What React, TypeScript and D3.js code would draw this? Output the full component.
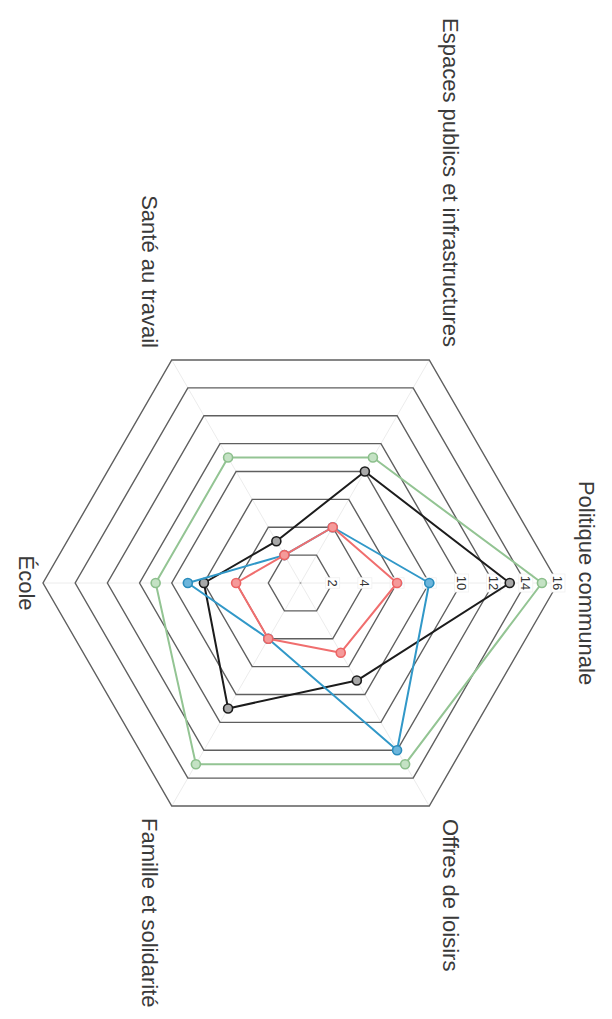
import React from "react";
import * as d3 from "d3";

const axes = [
  "Politique communale",
  "Offres de loisirs",
  "Famille et solidarité",
  "École",
  "Santé au travail",
  "Espaces publics et infrastructures",
];
const ringValues = [2, 4, 6, 8, 10, 12, 14, 16];
const tickLabels = ["2", "4", "6", "8", "10", "12", "14", "16"];

const greenValues = [15, 13, 13, 9, 9, 9];
const blackValues = [13, 7, 9, 6, 3, 8];
const blueValues = [8, 12, 4, 7, 2, 4];
const redValues = [6, 5, 4, 4, 2, 4];

const series = [
  { name: "green", values: greenValues, line: "#93c493", fill: "#c4e2c4", stroke: "#8cbf8c" },
  { name: "black", values: blackValues, line: "#1c1c1c", fill: "#a8a8a8", stroke: "#1c1c1c" },
  { name: "blue", values: blueValues, line: "#3198c8", fill: "#6db6dc", stroke: "#2a8cbc" },
  { name: "red", values: redValues, line: "#f06e6e", fill: "#f59a9a", stroke: "#ec6464" },
];

const W = 612;
const H = 1019;
const cx = 300.5;
const cy = 583;
const R = 257.5;

// label placement in the unrotated frame (anchor, dx, dy)
const labelPos: [string, number, number][] = [
  ["middle", 0, -278],
  ["start", 236, -142],
  ["start", 235, 158.5],
  ["middle", 0, 282],
  ["end", -235, 158.5],
  ["end", -236, -142],
];

export default function App() {
  const r = d3.scaleLinear().domain([0, 16]).range([0, R]);
  const angle = d3
    .scalePoint<number>()
    .domain(d3.range(axes.length))
    .range([0, (2 * Math.PI * (axes.length - 1)) / axes.length]);

  const radial = d3
    .lineRadial<number>()
    .angle((_, i) => angle(i) as number)
    .radius((v) => r(v))
    .curve(d3.curveLinearClosed);

  const pt = (v: number, i: number) => {
    const a = angle(i) as number;
    return [r(v) * Math.sin(a), -r(v) * Math.cos(a)];
  };

  return (
    <svg
      width={W}
      height={H}
      style={{ position: "absolute", left: 0, top: 0, background: "#fff" }}
      fontFamily="Liberation Sans, Arial, sans-serif"
    >
      <rect width={W} height={H} fill="#fff" />
      <g transform={`translate(${cx},${cy}) rotate(90)`}>
        {axes.map((_, i) => {
          const [x, y] = pt(16, i);
          return <line key={"s" + i} x1={0} y1={0} x2={x} y2={y} stroke="#ececec" strokeWidth={1} />;
        })}
        {ringValues.map((v) => (
          <path
            key={"r" + v}
            d={radial(axes.map(() => v)) || ""}
            fill="none"
            stroke="#5f5f5f"
            strokeWidth={1.4}
          />
        ))}
        {ringValues.map((v, k) => {
          const w = tickLabels[k].length * 7.5 + 3;
          return (
            <g key={"t" + v} transform={`translate(0,${-r(v)})`}>
              <rect x={-w / 2} y={-7} width={w} height={14} fill="#fff" stroke="#f0f0f0" strokeWidth={0.8} />
              <text textAnchor="middle" dy="0.35em" fontSize={13} fill="#333">
                {tickLabels[k]}
              </text>
            </g>
          );
        })}
        <circle cx={0} cy={0} r={1} fill="#aaa" />
        {series.map((s) => (
          <g key={s.name}>
            <path d={radial(s.values) || ""} fill="none" stroke={s.line} strokeWidth={2} strokeLinejoin="round" />
            {s.values.map((v, i) => {
              const [x, y] = pt(v, i);
              return (
                <circle key={i} cx={x} cy={y} r={4.5} fill={s.fill} stroke={s.stroke} strokeWidth={1.6} />
              );
            })}
          </g>
        ))}
        {axes.map((name, i) => (
          <text
            key={"l" + i}
            x={labelPos[i][1]}
            y={labelPos[i][2]}
            textAnchor={labelPos[i][0]}
            fontSize={22}
            fill="#3a3a3a"
          >
            {name}
          </text>
        ))}
      </g>
    </svg>
  );
}
